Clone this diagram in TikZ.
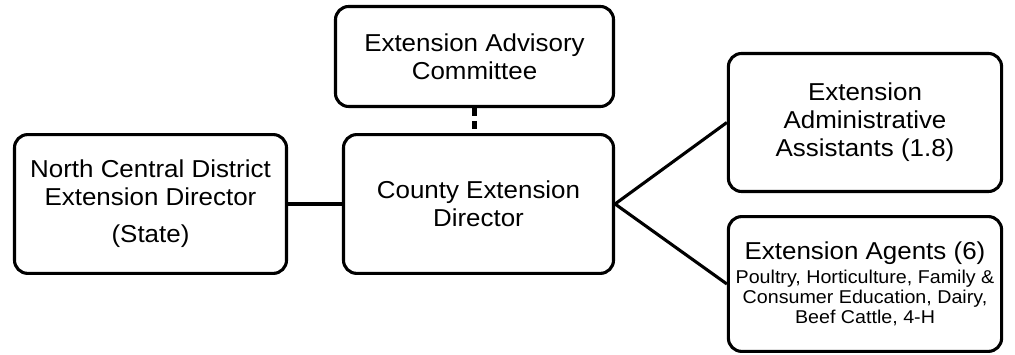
\documentclass[tikz,border=0pt]{standalone}
\usepackage{fontspec}
\setmainfont{Liberation Sans}[FakeStretch=1.06]
\newcommand{\agentsub}{\fontsize{13.2pt}{14.2pt}\selectfont}
\tikzset{
  orgbox/.style={draw, rectangle, rounded corners=0.33cm, line width=2.2pt,
    align=center, inner sep=2pt, font=\fontsize{17.4pt}{19.9pt}\selectfont},
  orgline/.style={line width=2.2pt},
  advline/.style={line width=3.2pt, dash pattern=on 0.2cm off 0.12cm}
}
\begin{document}
\begin{tikzpicture}
    \useasboundingbox (0,0) rectangle (25.375,8.875);

    % Central Node
    \node[orgbox, minimum width=6.75cm, minimum height=3.47cm] (County) at (11.9625,3.775)
        {County Extension\\Director};

    % Advisory and state level
    \node[orgbox, minimum width=6.95cm, minimum height=2.5cm] (Advisory) at (11.8625,7.4625)
        {Extension Advisory\\Committee};
    \node[orgbox, minimum width=6.8cm, minimum height=3.47cm] (District) at (3.7625,3.775)
        {North Central District\\Extension Director\\[6.4pt](State)};

    % Staff under the county director
    \node[orgbox, minimum width=6.83cm, minimum height=3.45cm] (Assistants) at (21.625,5.8125)
        {Extension\\Administrative\\Assistants (1.8)};
    \node[orgbox, minimum width=6.83cm, minimum height=3.37cm] (Agents) at (21.625,1.775)
        {Extension Agents (6)\\[-2.9pt]
         \agentsub Poultry, Horticulture, Family \&\\[-5.7pt]
         \agentsub Consumer Education, Dairy,\\[-5.7pt]
         \agentsub Beef Cattle, 4-H};

    % Edges
    \draw[advline] (Advisory.south) -- (Advisory.south |- County.north);
    \draw[orgline] (District) -- (County);
    \draw[orgline] (Assistants.west) -- (County.east) -- (Agents.west);

\end{tikzpicture}
\end{document}
